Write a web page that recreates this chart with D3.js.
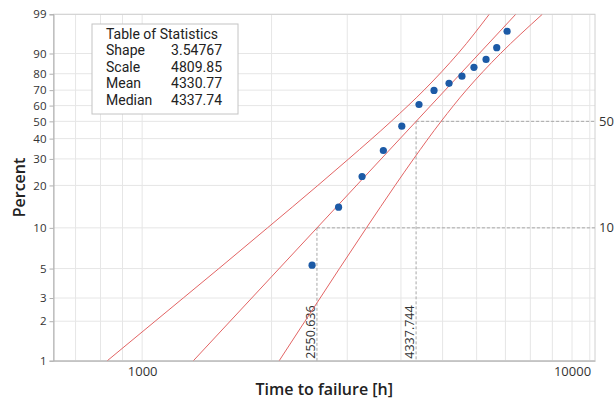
<!DOCTYPE html>
<html><head><meta charset="utf-8">
<script src="https://cdn.jsdelivr.net/npm/d3@7"></script>
<style>
html,body{margin:0;padding:0;background:#fff;}
text{font-family:"Open Sans","Noto Sans",sans-serif;}
</style></head>
<body><svg id="c" width="616" height="401"></svg>
<script>
// ---- data ----
const statNames = ["Shape", "Scale", "Mean", "Median"];
const statValues = ["3.54767", "4809.85", "4330.77", "4337.74"];
const pctTicks = [1, 2, 3, 5, 10, 20, 30, 40, 50, 60, 70, 80, 90, 99];
const xTickValues = [1000, 10000];
const xGridValues = [700, 800, 900, 1000, 2000, 3000, 4000, 5000, 6000, 7000, 8000, 9000, 10000, 11000];
// observed points (time, percent)
const pointTimes = [2485, 2864, 3248, 3640, 4018, 4406, 4775, 5175, 5546, 5914, 6310, 6681, 7063];
const pointPercents = [5.3, 14.1, 23.0, 33.9, 47.1, 60.7, 69.8, 74.3, 78.6, 83.5, 87.4, 92.2, 96.7];
// fitted line (percent, time)
const fitPercents = [1, 99];
const fitTimes = [1316, 7397];
// confidence bounds (percent levels, times)
const boundPercents = [1, 2, 3, 5, 10, 20, 30, 50, 70, 90, 99];
const upperBoundTimes = [830, 1072, 1246, 1508, 1957, 2563, 3023, 3796, 4526, 5431, 6418];
const lowerBoundTimes = [2084, 2392, 2595, 2877, 3325, 3877, 4280, 4960, 5677, 6818, 8528];
// reference percentiles
const refPercents = [10, 50];
const refTimes = [2550.636, 4337.744];

// ---- layout ----
const L = 53.5, R = 595, T = 14.3, B = 360.7;
const svg = d3.select("#c");
svg.append("rect").attr("width", 616).attr("height", 401).attr("fill", "#fff");

const x = d3.scaleLog().domain([622, 11310]).range([L, R]);
const wf = p => Math.log(-Math.log(1 - p / 100));
const yLin = d3.scaleLinear().domain([wf(1), wf(99)]).range([B, T]);
const y = p => yLin(wf(p));

// clip
svg.append("clipPath").attr("id", "clip").append("rect")
  .attr("x", L).attr("y", T).attr("width", R - L).attr("height", B - T);

// grid
const grid = svg.append("g");
grid.selectAll("line.h").data(pctTicks).join("line")
  .attr("x1", L).attr("x2", R).attr("y1", d => y(d)).attr("y2", d => y(d))
  .attr("stroke", "#e6e6e6").attr("stroke-width", 1);
grid.selectAll("line.v").data(xGridValues).join("line")
  .attr("x1", d => x(d)).attr("x2", d => x(d)).attr("y1", T).attr("y2", B)
  .attr("stroke", "#e6e6e6").attr("stroke-width", 1);

// frame
svg.append("rect").attr("x", L).attr("y", T).attr("width", R - L).attr("height", B - T)
  .attr("fill", "none").attr("stroke", "#d0d0d0");

// left axis
const yAxis = d3.axisLeft(yLin).tickValues(pctTicks.map(wf))
  .tickFormat((d, i) => pctTicks[i]).tickSize(4).tickPadding(3);
const ga = svg.append("g").attr("transform", `translate(${L},0)`).call(yAxis);
ga.select(".domain").attr("stroke", "#b0b0b0");
ga.selectAll(".tick line").attr("stroke", "#b0b0b0");
ga.selectAll(".tick text").attr("fill", "#333").style("font-size", "11.5px");

// bottom axis
const xAxis = d3.axisBottom(x).tickValues(xTickValues).tickFormat(d3.format("d")).tickSize(0).tickPadding(6);
const gb = svg.append("g").attr("transform", `translate(0,${B})`).call(xAxis);
gb.select(".domain").attr("stroke", "#b0b0b0");
gb.selectAll(".tick text").attr("fill", "#333").style("font-size", "13px");

// reference dashed lines
const ref = svg.append("g");
refPercents.forEach((p, i) => {
  const t = refTimes[i];
  ref.append("line").attr("x1", x(t)).attr("x2", R).attr("y1", y(p)).attr("y2", y(p))
    .attr("stroke", "#a8a8a8").attr("stroke-dasharray", "3,2");
  ref.append("line").attr("x1", x(t)).attr("x2", x(t)).attr("y1", y(p)).attr("y2", B)
    .attr("stroke", "#a8a8a8").attr("stroke-dasharray", "3,2");
  ref.append("text").attr("x", R + 4).attr("y", y(p)).attr("dy", "0.35em")
    .attr("fill", "#333").style("font-size", "13px").text(p);
  ref.append("text").attr("transform", `translate(${x(t) - 2},${B - 2}) rotate(-90)`)
    .attr("fill", "#333").style("font-size", "12.5px").text(d3.format(".3f")(t));
});

// lines
const lineGen = d3.line().x(d => x(d[0])).y(d => y(d[1]));
const curveGen = d3.line().x(d => x(d[0])).y(d => y(d[1])).curve(d3.curveMonotoneY);
const lines = svg.append("g").attr("clip-path", "url(#clip)");
lines.append("path").datum(fitTimes.map((t, i) => [t, fitPercents[i]]))
  .attr("d", lineGen).attr("fill", "none").attr("stroke", "#e26464").attr("stroke-width", 1);
[upperBoundTimes, lowerBoundTimes].forEach(arr => {
  lines.append("path").datum(arr.map((t, i) => [t, boundPercents[i]]))
    .attr("d", curveGen).attr("fill", "none").attr("stroke", "#e26464").attr("stroke-width", 1);
});

// points
svg.append("g").selectAll("circle").data(pointTimes).join("circle")
  .attr("cx", d => x(d)).attr("cy", (d, i) => y(pointPercents[i])).attr("r", 3.6)
  .attr("fill", "#1c5aa6");

// statistics table
const tb = svg.append("g").style("font-family", "Roboto, 'Open Sans', sans-serif");
tb.append("rect").attr("x", 92).attr("y", 24).attr("width", 146).attr("height", 90)
  .attr("fill", "#fff").attr("stroke", "#c4c4c4");
tb.append("text").attr("x", 106).attr("y", 38.5).attr("fill", "#222").style("font-size", "14px")
  .style("font-family", "Roboto, sans-serif").text("Table of Statistics");
statNames.forEach((n, i) => {
  tb.append("text").attr("x", 106).attr("y", 55 + i * 16.5).attr("fill", "#222")
    .style("font-size", "14px").style("font-family", "Roboto, sans-serif").text(n);
  tb.append("text").attr("x", 222).attr("y", 55 + i * 16.5).attr("fill", "#222")
    .attr("text-anchor", "end").style("font-size", "14px").style("font-family", "Roboto, sans-serif")
    .text(statValues[i]);
});

// axis titles
svg.append("text").attr("x", (L + R) / 2).attr("y", 395).attr("text-anchor", "middle")
  .attr("fill", "#222").style("font-size", "16px").style("font-weight", "600")
  .text("Time to failure [h]");
svg.append("text").attr("transform", `translate(25,${(T + B) / 2}) rotate(-90)`)
  .attr("text-anchor", "middle").attr("fill", "#222").style("font-size", "16px")
  .style("font-weight", "600").text("Percent");
</script></body></html>
